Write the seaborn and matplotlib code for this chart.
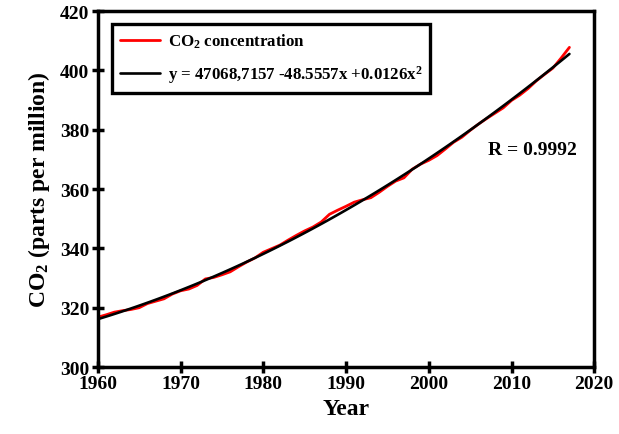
import matplotlib
matplotlib.use("Agg")
import matplotlib.pyplot as plt
import numpy as np
import pandas as pd
import seaborn as sns

# ---------------------------------------------------------------------------
# Data (annual CO2)
# ---------------------------------------------------------------------------
years = list(range(1960, 2018))
co2_ppm = [
    316.8, 317.6, 318.5, 319.0, 319.4, 320.0, 321.4, 322.2, 323.0, 324.6,
    325.7, 326.3, 327.5, 329.7, 330.2, 331.1, 332.1, 333.8, 335.4, 336.8,
    338.7, 339.9, 341.1, 342.8, 344.4, 345.9, 347.2, 348.9, 351.5, 352.9,
    354.2, 355.6, 356.4, 357.1, 358.9, 360.9, 362.7, 363.8, 366.7, 368.4,
    369.7, 371.3, 373.5, 375.8, 377.5, 379.8, 381.9, 383.8, 385.6, 387.4,
    389.9, 391.7, 393.9, 396.5, 398.7, 400.8, 404.2, 407.8,
]
x_ticks = [1960, 1970, 1980, 1990, 2000, 2010, 2020]
y_ticks = [300, 320, 340, 360, 380, 400, 420]
fit_label = r"y = 47068,7157 -48.5557x +0.0126x$^{2}$"
r_label = "R = 0.9992"

df = pd.DataFrame({"year": years, "co2": co2_ppm})

sns.set_style("ticks")
plt.rcParams["font.family"] = ["Liberation Serif", "DejaVu Serif"]
plt.rcParams["font.weight"] = "bold"
plt.rcParams["mathtext.fontset"] = "custom"
plt.rcParams["mathtext.rm"] = "Liberation Serif:bold"
plt.rcParams["mathtext.it"] = "Liberation Serif:bold"
plt.rcParams["mathtext.bf"] = "Liberation Serif:bold"
plt.rcParams["mathtext.default"] = "rm"
plt.rcParams["axes.edgecolor"] = "black"
plt.rcParams["xtick.color"] = "black"
plt.rcParams["ytick.color"] = "black"
plt.rcParams["text.color"] = "black"
plt.rcParams["axes.labelcolor"] = "black"

fig, ax = plt.subplots(figsize=(6.19, 4.35), dpi=100)
fig.subplots_adjust(left=0.158, right=0.96, top=0.972, bottom=0.154)

sns.lineplot(data=df, x="year", y="co2", color="red", linewidth=2.0,
             label=r"CO$_{2}$ concentration", ax=ax)
# quadratic trend line fitted by seaborn
sns.regplot(data=df, x="year", y="co2", order=2, ci=None, scatter=False,
            color="black", label=fit_label, line_kws={"linewidth": 1.9}, ax=ax)

ax.set_xlim(1960, 2020)
ax.set_ylim(300, 420)
ax.set_xticks(x_ticks)
ax.set_yticks(y_ticks)
ax.tick_params(direction="inout", length=8, width=2.5, labelsize=14, pad=2)
for lab in ax.get_xticklabels() + ax.get_yticklabels():
    lab.set_fontweight("bold")
for sp in ax.spines.values():
    sp.set_visible(True)
    sp.set_linewidth(2.5)

ax.set_xlabel("Year", fontsize=17, fontweight="bold", labelpad=4)
ax.set_ylabel(r"CO$_{2}$ (parts per million)", fontsize=17, fontweight="bold", labelpad=6)

ax.text(2007.2, 373.5, r_label, fontsize=14, fontweight="bold", va="center", ha="left")

leg = ax.legend(loc="upper left", bbox_to_anchor=(0.02, 0.975), fontsize=12.2,
                frameon=True, fancybox=False, handlelength=2.4, borderpad=0.45,
                labelspacing=0.75, handletextpad=0.45, borderaxespad=0.25)
leg.get_frame().set_edgecolor("black")
leg.get_frame().set_linewidth(2.4)
leg.get_frame().set_alpha(1)
for t in leg.get_texts():
    t.set_fontweight("bold")

fig.savefig("out.png", dpi=100)
